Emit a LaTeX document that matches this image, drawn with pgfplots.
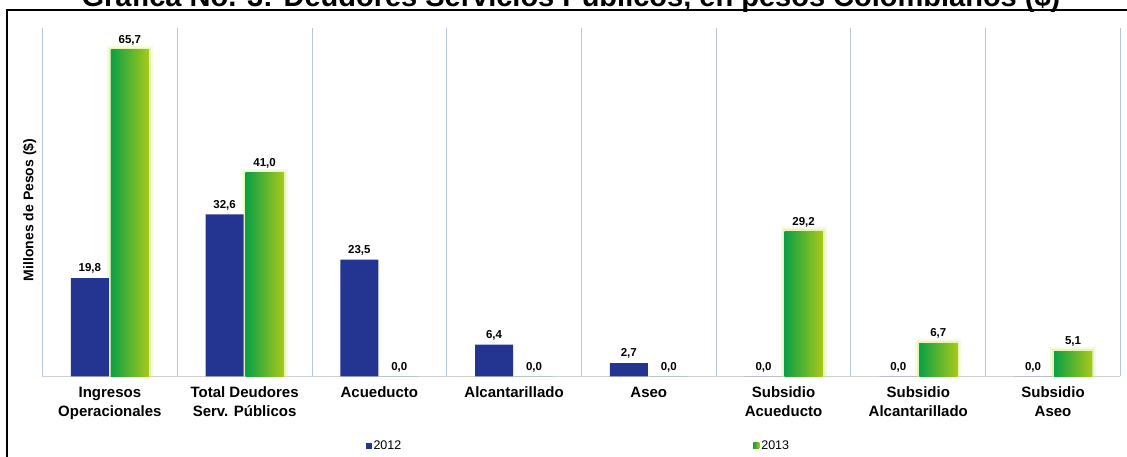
\documentclass[border=0pt]{standalone}
\usepackage{pgfplots}
\pgfplotsset{compat=1.18}
\usepackage{fontspec}
\setmainfont{Liberation Sans}

\definecolor{bar12}{HTML}{233591}
\definecolor{g13a}{HTML}{0BA045}
\definecolor{g13b}{HTML}{A8C81A}
\definecolor{glow}{HTML}{D4EE7A}
\definecolor{sepc}{HTML}{B5C5DA}
\definecolor{basec}{HTML}{D0D0D0}

\pgfplotsset{
  vals/.style={nodes near coords={\pgfmathprintnumber[fixed,fixed zerofill,precision=1,use comma]{\pgfplotspointmeta}},
    every node near coord/.append style={font=\fontsize{11.5}{13}\selectfont\bfseries, yshift=1pt, text=black}},
  gbar/.style={forget plot, bar shift=20pt, left color=g13a, right color=g13b, draw=none},
  glowbar/.style={forget plot, bar shift=20pt, fill=none, draw=glow, line width=#1},
}

\begin{document}
\begin{tikzpicture}[x=1pt,y=1pt]
\begin{axis}[
  at={(42.5pt,80.5pt)}, anchor=south west,
  scale only axis, width=1078pt, height=348.5pt,
  xmin=-0.5, xmax=7.5, ymin=0, ymax=70.1,
  ybar, bar width=38pt,
  axis lines*=left,
  y axis line style={draw=none},
  x axis line style={draw=basec, line width=1.5pt},
  ytick=\empty,
  xtick={0,...,7},
  major tick length=0pt,
  minor xtick={-0.5,0.5,...,7.5},
  minor tick length=0pt,
  xminorgrids,
  minor grid style={draw=sepc, line width=0.9pt},
  xticklabels={{Ingresos\\Operacionales},{Total Deudores\\Serv. Públicos},{Acueducto},{Alcantarillado},{Aseo},{Subsidio\\Acueducto},{Subsidio\\Alcantarillado},{Subsidio\\Aseo}},
  xticklabel style={font=\fontsize{15}{19}\selectfont\bfseries, align=center, yshift=-7pt},
  ylabel={Millones de Pesos (\$)},
  ylabel style={font=\fontsize{14}{16}\selectfont\bfseries, at={(axis description cs:-0.0055,0.478)}, anchor=south, inner sep=0pt},
  /pgf/number format/assume math mode=true,
  legend columns=2,
  legend style={draw=none, fill=none, at={(rel axis cs:0.2995,-0.199)}, anchor=west,
    font=\fontsize{12.5}{14}\selectfont, inner sep=0pt,
    /tikz/every even column/.append style={column sep=350pt}},
]
% halo round the 2013 bars
\addplot[glowbar=8pt, opacity=0.25] coordinates {(0,65.7) (1,41.0) (5,29.2) (6,6.7) (7,5.1)};
\addplot[glowbar=4pt, opacity=0.45] coordinates {(0,65.7) (1,41.0) (5,29.2) (6,6.7) (7,5.1)};
\addplot[bar shift=-20pt, fill=bar12, draw=none, vals,
  legend image code/.code={\fill[bar12] (0pt,-3pt) rectangle (6pt,3pt);}]
  coordinates {(0,19.8) (1,32.6) (2,23.5) (3,6.4) (4,2.7) (5,0) (6,0) (7,0)};
\addplot[bar shift=20pt, fill=g13a, draw=none, vals,
  legend image code/.code={\shade[left color=g13a, right color=g13b] (0pt,-3pt) rectangle (6pt,3pt);}]
  coordinates {(0,65.7) (1,41.0) (2,0) (3,0) (4,0) (5,29.2) (6,6.7) (7,5.1)};
% one shaded bar each, so that every bar gets its own gradient
\addplot[gbar] coordinates {(0,65.7)};
\addplot[gbar] coordinates {(1,41.0)};
\addplot[gbar] coordinates {(5,29.2)};
\addplot[gbar] coordinates {(6,6.7)};
\addplot[gbar] coordinates {(7,5.1)};
\legend{2012,2013}
\end{axis}
\node[font=\fontsize{29}{34}\selectfont\bfseries, anchor=base] at (571,450)
  {Grafica No. 3: Deudores Servicios Públicos, en pesos Colombianos (\$)};
\draw[line width=1.3pt] (7,0) -- (7,447) -- (1130,447);
\pgfresetboundingbox
\useasboundingbox (0,0) rectangle (1127,457);
\end{tikzpicture}
\end{document}
